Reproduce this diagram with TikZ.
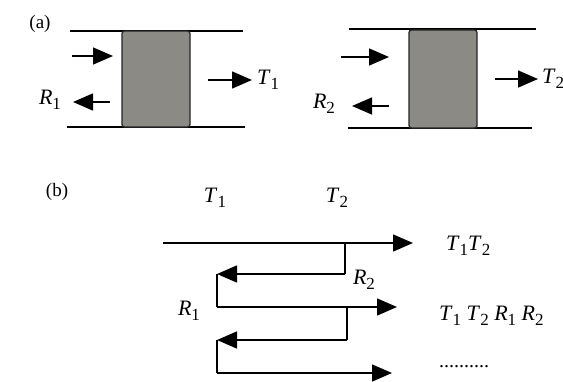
\documentclass[tikz,border=0pt]{standalone}
\usepackage{fontspec}
\setmainfont{Liberation Serif}
\usetikzlibrary{arrows.meta}
\tikzset{
  slab/.style={draw=black!85, line width=1.3pt, fill={rgb,255:red,140;green,138;blue,132}, rounded corners=2.5pt, inner sep=0pt},
  rail/.style={line width=1.5pt},
  ray/.style={line width=1.5pt, -{Triangle[length=20pt,width=17pt]}},
  link/.style={line width=1.1pt},
  lab/.style={font=\fontsize{22}{24}\selectfont, inner sep=0pt},
  tag/.style={font=\fontsize{19}{21}\selectfont, inner sep=0pt},
}
\newcommand{\sym}[2]{\textit{#1}\raisebox{-0.5ex}{\fontsize{17}{18}\selectfont #2}}
\begin{document}
\begin{tikzpicture}[x=1pt,y=-1pt]
\useasboundingbox (0,0) rectangle (563,381);
\fill[white] (0,0) rectangle (563,381);
% ---------- (a) ----------
\node[tag] (taga) at (40,24) {(a)};
% left slab
\coordinate (lt1) at (70,31);  \coordinate (lt2) at (243,31);
\coordinate (lb1) at (67,127); \coordinate (lb2) at (245,127);
\draw[rail] (lt1) -- (lt2);
\draw[rail] (lb1) -- (lb2);
\node[slab, minimum width=68pt, minimum height=96pt] (s1) at (156,79) {};
\coordinate (in1a) at (72,56);   \coordinate (in1b) at (113,56);
\coordinate (t1a) at (208,80);   \coordinate (t1b) at (252,80);
\coordinate (r1a) at (110,102);  \coordinate (r1b) at (73,102);
\draw[ray] (in1a) -- (in1b);
\draw[ray] (t1a) -- (t1b);
\draw[ray] (r1a) -- (r1b);
\node[lab, anchor=west] (lt1lab) at (257,80) {\sym{T}{1}};
\node[lab] (lr1lab) at (50,100) {\sym{R}{1}};
% right slab
\coordinate (rt1) at (349,29);  \coordinate (rt2) at (536,29);
\coordinate (rb1) at (348,128); \coordinate (rb2) at (532,128);
\draw[rail] (rt1) -- (rt2);
\draw[rail] (rb1) -- (rb2);
\node[slab, minimum width=68pt, minimum height=98pt] (s2) at (443,79) {};
\coordinate (in2a) at (341,57);  \coordinate (in2b) at (389,57);
\coordinate (t2a) at (495,79);   \coordinate (t2b) at (538,79);
\coordinate (r2a) at (389,106);  \coordinate (r2b) at (352,106);
\draw[ray] (in2a) -- (in2b);
\draw[ray] (t2a) -- (t2b);
\draw[ray] (r2a) -- (r2b);
\node[lab, anchor=west] (lt2lab) at (542,79) {\sym{T}{2}};
\node[lab] (lr2lab) at (324,104) {\sym{R}{2}};
% ---------- (b) ----------
\node[tag] (tagb) at (57,192) {(b)};
\node[lab] (bt1) at (215,198) {\sym{T}{1}};
\node[lab] (bt2) at (337,198) {\sym{T}{2}};
\coordinate (p0) at (163,243);
\coordinate (p1) at (413,243);
\coordinate (q1) at (345,243);
\coordinate (q2) at (345,274);
\coordinate (q3) at (217,274);
\coordinate (q4) at (217,307);
\coordinate (q5) at (397,307);
\coordinate (q6) at (347,307);
\coordinate (q7) at (347,340);
\coordinate (q8) at (217,340);
\coordinate (q9) at (217,373);
\coordinate (q10) at (392,373);
\draw[ray] (p0) -- (p1);
\draw[link] (q1) -- (q2);
\draw[ray] (q2) -- (q3);
\draw[link] (q3) -- (q4);
\draw[ray] (q4) -- (q5);
\draw[link] (q6) -- (q7);
\draw[ray] (q7) -- (q8);
\draw[link] (q8) -- (q9);
\draw[ray] (q9) -- (q10);
\node[lab] (br2) at (364,280) {\sym{R}{2}};
\node[lab] (br1) at (189,311) {\sym{R}{1}};
\node[lab, anchor=west] (o1) at (446,246) {\sym{T}{1}\sym{T}{2}};
\node[lab, anchor=west] (o2) at (439,316) {\sym{T}{1} \sym{T}{2} \sym{R}{1} \sym{R}{2}};
\node[lab, anchor=west, font=\fontsize{20}{20}\selectfont] (o3) at (439,367) {..........};
\end{tikzpicture}
\end{document}
